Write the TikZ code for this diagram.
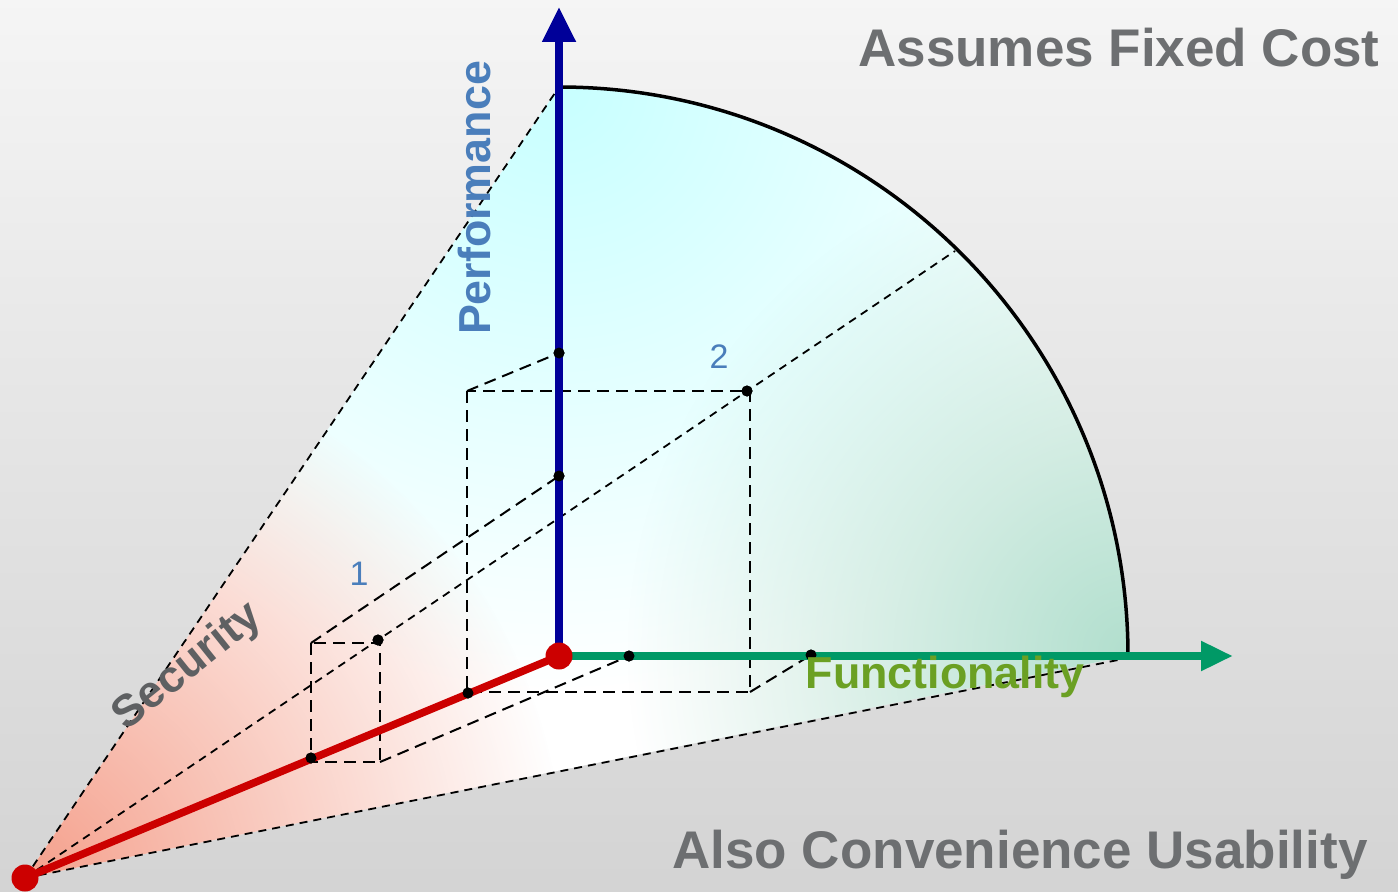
\documentclass[tikz,border=0pt]{standalone}
\usepackage{fontspec}
\setmainfont{Liberation Sans}
\usetikzlibrary{arrows.meta, fadings}
\definecolor{axblue}{HTML}{000099}
\definecolor{axgreen}{HTML}{009966}
\definecolor{secred}{HTML}{CC0000}
\definecolor{perfblue}{HTML}{4A7EBB}
\definecolor{funcgreen}{HTML}{6BA023}
\definecolor{secgray}{HTML}{5E6062}
\definecolor{titlegray}{HTML}{6D6F71}
\definecolor{cyantint}{HTML}{C8FFFF}
\definecolor{greentint}{HTML}{B2DFCE}
\definecolor{redtint}{HTML}{F5A08C}
\tikzfading[name=glow, inner color=transparent!0, outer color=transparent!100]

\begin{document}
\begin{tikzpicture}[
  x=0.5pt, y=0.5pt,
  axis/.style={line width=4pt},
  guide/.style={dash pattern=on 6pt off 3.5pt, line width=1pt},
  ray/.style={dash pattern=on 4pt off 3pt, line width=0.9pt},
  dot/.style={circle, fill=black, inner sep=0pt, minimum size=5.5pt},
  bigdot/.style={circle, fill=secred, inner sep=0pt, minimum size=13.5pt},
  title/.style={font=\bfseries\fontsize{26.5}{30}\selectfont, text=titlegray, anchor=base},
  axlabel/.style={font=\bfseries\fontsize{22.4}{26}\selectfont},
  num/.style={font=\fontsize{17}{20}\selectfont, text=perfblue, anchor=base}
]
\useasboundingbox (0,0) rectangle (1398,891);
\shade[top color=black!4, bottom color=black!17] (0,0) rectangle (1398,891);

\coordinate (S) at (25,13);
\coordinate (O) at (559,235);
\coordinate (T) at (559,804);
\coordinate (R) at (1128,233);
\coordinate (D) at (955,640);
\coordinate (Pt) at (559,884);
\coordinate (Ft) at (1233,235);

\begin{scope}
  \clip (S) -- (T) arc[start angle=90, end angle=0, radius=569] -- cycle;
  \fill[white] (0,0) rectangle (1398,891);
  \fill[cyantint, path fading=glow] (T) circle (600);
  \fill[greentint, path fading=glow] (1128,240) circle (500);
  \fill[redtint, path fading=glow] (S) circle (540);
\end{scope}

\coordinate (b1tl) at (311,248);
\coordinate (b1br) at (380,129);
\coordinate (b2tl) at (467,500);
\coordinate (b2br) at (750,199);

\node[dot] (p1) at (559,415) {};
\node[dot] (p2) at (559,538) {};
\node[dot] (f1) at (629,235) {};
\node[dot] (f2) at (811,236) {};
\node[dot] (s1) at (311,133) {};
\node[dot] (s2) at (468,198) {};
\node[dot] (d1) at (378,251) {};
\node[dot] (d2) at (747,500) {};

\draw[ray] (S) -- (T);
\draw[ray] (S) -- (R);
\draw[ray] (S) -- (D);

\draw[guide] (b1tl) rectangle (b1br);
\draw[guide] (b2tl) rectangle (b2br);
\draw[guide] (b1tl) -- (p1.center);
\draw[guide] (b1br) -- (f1.center);
\draw[guide] (b2tl) -- (p2.center);
\draw[guide] (b2br) -- (f2.center);

\draw[line width=1.75pt] (T) arc[start angle=90, end angle=0, radius=569];

\draw[axis, axblue, -{Triangle[length=17.5pt, width=16pt]}] (O) -- (Pt);
\draw[axis, axgreen, -{Triangle[length=16pt, width=14pt]}] (O) -- (Ft);
\draw[line width=3.8pt, secred] (S) -- (O);

\foreach \n in {p1,p2,f1,f2,s1,s2,d1,d2}
  \node[dot] at (\n) {};
\node[bigdot] (so) at (S) {};
\node[bigdot] (oo) at (O) {};

\node[axlabel, text=perfblue, rotate=90] (perf) at (474,693) {Performance};
\node[axlabel, text=secgray, rotate=38.8] (sec) at (188,224) {Security};
\node[axlabel, text=funcgreen, anchor=base] (func) at (945,203) {Functionality};
\node[num] (n1) at (359,306) {1};
\node[num] (n2) at (719,523) {2};
\node[title] (cost) at (1119,824) {Assumes Fixed Cost};
\node[title] (conv) at (1020,23) {Also Convenience Usability};
\end{tikzpicture}
\end{document}
